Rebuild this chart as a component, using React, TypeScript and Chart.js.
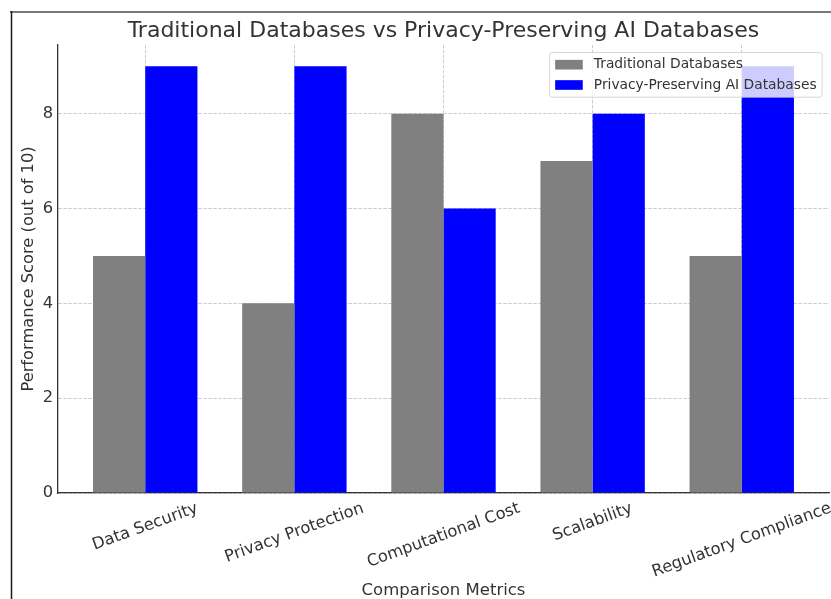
import React, { useEffect, useRef } from "react";
import { Chart, registerables } from "chart.js";

Chart.register(...registerables);

const categories = ["Data Security", "Privacy Protection", "Computational Cost", "Scalability", "Regulatory Compliance"];
const traditionalScores = [5, 4, 8, 7, 5];
const privacyScores = [9, 9, 6, 8, 9];
const yTickValues = [0, 2, 4, 6, 8];
const seriesLabels = ["Traditional Databases", "Privacy-Preserving AI Databases"];
const seriesColors = ["#808080", "#0000ff"];
const titleText = "Traditional Databases vs Privacy-Preserving AI Databases";
const xAxisTitle = "Comparison Metrics";
const yAxisTitle = "Performance Score (out of 10)";

const FONT = "'DejaVu Sans', sans-serif";
const TEXT = "#333333";
const GRID = "rgba(176,176,176,0.65)";
const TICK_SIZE = 16.3;
const LEGEND_SIZE = 13.8;
const BAR_WIDTH = 0.35;

const frameAndLabels = {
  id: "frameAndLabels",
  beforeDraw(chart: any) {
    const { ctx, width, height } = chart;
    ctx.save();
    ctx.strokeStyle = "#7a7a7a";
    ctx.lineWidth = 2;
    ctx.beginPath();
    ctx.moveTo(10, 12);
    ctx.lineTo(width, 12);
    ctx.stroke();
    ctx.strokeStyle = "#1a1a1a";
    ctx.lineWidth = 1.5;
    ctx.beginPath();
    ctx.moveTo(11.5, 11);
    ctx.lineTo(11.5, height);
    ctx.stroke();
    ctx.restore();
  },
  afterDraw(chart: any) {
    const { ctx, chartArea } = chart;
    const xs = chart.scales.x;
    ctx.save();
    ctx.font = `${TICK_SIZE}px ${FONT}`;
    ctx.fillStyle = TEXT;
    ctx.textAlign = "center";
    ctx.textBaseline = "middle";
    const a = (20 * Math.PI) / 180;
    const th = TICK_SIZE * 1.16;
    categories.forEach((label, i) => {
      const w = ctx.measureText(label).width;
      const H = w * Math.sin(a) + th * Math.cos(a);
      const cx = xs.getPixelForValue(i);
      const cy = chartArea.bottom + 6 + H / 2;
      ctx.save();
      ctx.translate(cx, cy);
      ctx.rotate(-a);
      ctx.fillText(label, 0, 0);
      ctx.restore();
    });
    ctx.restore();

    const fs = LEGEND_SIZE;
    ctx.save();
    ctx.font = `${fs}px ${FONT}`;
    const items = chart.data.datasets.map((d: any) => ({ label: d.label, color: d.backgroundColor }));
    const textW = Math.max(...items.map((it: any) => ctx.measureText(it.label).width));
    const pad = 0.4 * fs;
    const handle = 2 * fs;
    const handlePad = 0.8 * fs;
    const rowH = 0.97 * fs;
    const spacing = 0.5 * fs;
    const boxW = pad + handle + handlePad + textW + pad;
    const boxH = pad * 2 + rowH * items.length + spacing * (items.length - 1);
    const right = chartArea.right - 0.5 * fs;
    const top = chartArea.top + 0.55 * fs;
    const left = right - boxW;
    const r = 0.2 * fs;
    ctx.beginPath();
    ctx.moveTo(left + r, top);
    ctx.lineTo(left + boxW - r, top);
    ctx.arcTo(left + boxW, top, left + boxW, top + r, r);
    ctx.lineTo(left + boxW, top + boxH - r);
    ctx.arcTo(left + boxW, top + boxH, left + boxW - r, top + boxH, r);
    ctx.lineTo(left + r, top + boxH);
    ctx.arcTo(left, top + boxH, left, top + boxH - r, r);
    ctx.lineTo(left, top + r);
    ctx.arcTo(left, top, left + r, top, r);
    ctx.closePath();
    ctx.fillStyle = "rgba(255,255,255,0.8)";
    ctx.fill();
    ctx.strokeStyle = "rgba(204,204,204,0.8)";
    ctx.lineWidth = 1;
    ctx.stroke();
    ctx.textAlign = "left";
    ctx.textBaseline = "middle";
    items.forEach((it: any, i: number) => {
      const cy = top + pad + rowH / 2 + i * (rowH + spacing);
      ctx.fillStyle = it.color;
      ctx.fillRect(left + pad, cy - 0.35 * fs, handle, 0.7 * fs);
      ctx.fillStyle = TEXT;
      ctx.fillText(it.label, left + pad + handle + handlePad, cy);
    });
    ctx.restore();
  },
};

export default function App() {
  const ref = useRef<HTMLCanvasElement | null>(null);

  useEffect(() => {
    if (!ref.current) return;
    const n = categories.length;
    const dataMin = -BAR_WIDTH;
    const dataMax = n - 1 + BAR_WIDTH;
    const xMargin = 0.05 * (dataMax - dataMin);
    const yMax = 1.05 * Math.max(...traditionalScores, ...privacyScores);

    const chart = new Chart(ref.current, {
      type: "bar",
      data: {
        datasets: [
          {
            label: seriesLabels[0],
            data: traditionalScores.map((v, i) => ({ x: i, y: v })),
            backgroundColor: seriesColors[0],
            borderWidth: 0,
            categoryPercentage: 2 * BAR_WIDTH,
            barPercentage: 1.0,
          },
          {
            label: seriesLabels[1],
            data: privacyScores.map((v, i) => ({ x: i, y: v })),
            backgroundColor: seriesColors[1],
            borderWidth: 0,
            categoryPercentage: 2 * BAR_WIDTH,
            barPercentage: 1.0,
          },
        ],
      } as any,
      options: {
        responsive: false,
        animation: false,
        devicePixelRatio: 1,
        layout: { padding: { left: 0, right: 2, top: 0, bottom: 0 } },
        plugins: {
          legend: { display: false },
          tooltip: { enabled: false },
          title: {
            display: true,
            fullSize: false,
            text: titleText,
            color: TEXT,
            font: { family: FONT, size: 22.0, weight: "normal" },
            padding: { top: 18.5, bottom: 0 },
          },
        },
        scales: {
          x: {
            type: "linear",
            offset: false,
            min: dataMin - xMargin,
            max: dataMax + xMargin,
            z: 1,
            afterBuildTicks: (s: any) => {
              s.ticks = categories.map((_, i) => ({ value: i }));
            },
            afterFit: (s: any) => {
              s.height = 106;
            },
            ticks: { display: false },
            grid: { color: GRID, drawTicks: false, lineWidth: 1, offset: false },
            border: { color: "#333333", width: 1.3, dash: [3.5, 1.5] },
            title: {
              display: true,
              text: xAxisTitle,
              color: TEXT,
              font: { family: FONT, size: 16.5, lineHeight: 1.0 },
              padding: { top: 0, bottom: 0 },
            },
          },
          y: {
            type: "linear",
            min: 0,
            max: yMax,
            z: 1,
            afterBuildTicks: (s: any) => {
              s.ticks = yTickValues.map((v) => ({ value: v }));
            },
            afterFit: (s: any) => {
              s.width = 58;
            },
            ticks: { color: TEXT, font: { family: FONT, size: TICK_SIZE }, padding: 5 },
            grid: { color: GRID, drawTicks: false, lineWidth: 1 },
            border: { color: "#333333", width: 1.3, dash: [3.5, 1.5] },
            title: {
              display: true,
              text: yAxisTitle,
              color: TEXT,
              font: { family: FONT, size: 16.3 },
              padding: { top: 18.5, bottom: 0 },
            },
          },
        },
      } as any,
      plugins: [frameAndLabels],
    });
    return () => chart.destroy();
  }, []);

  return (
    <div style={{ position: "fixed", left: 0, top: 0, width: 831, height: 599, background: "#fff" }}>
      <canvas ref={ref} width={831} height={599} style={{ display: "block", width: 831, height: 599 }} />
    </div>
  );
}
